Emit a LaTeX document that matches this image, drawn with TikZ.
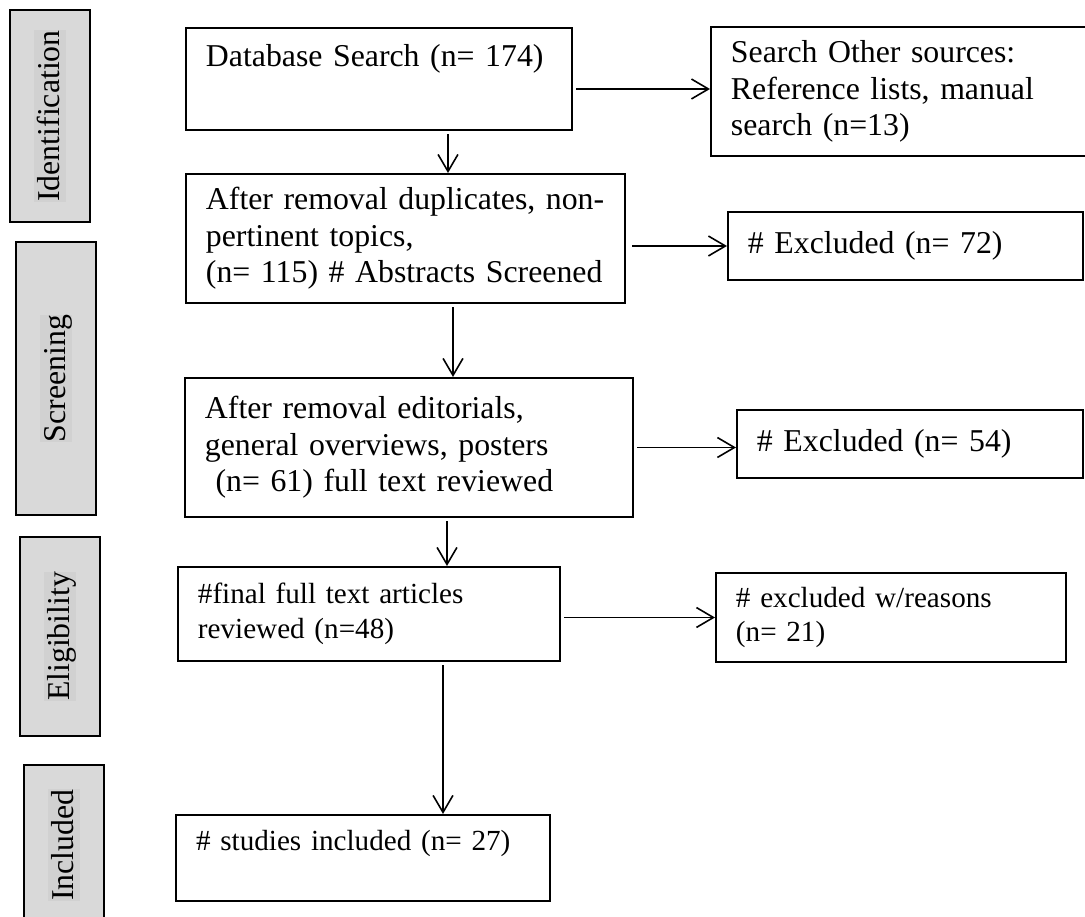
\documentclass[tikz,border=0pt]{standalone}
\usepackage{fontspec}
\setmainfont{Liberation Serif}
\usepackage{xcolor}
\usepackage{tikz}
\usetikzlibrary{positioning, arrows.meta}

\definecolor{barfill}{RGB}{217,217,217}
\definecolor{barmark}{RGB}{209,209,209}

\newcommand{\barlabel}[1]{{\fboxsep=0pt\colorbox{barmark}{\rule[-0.2em]{0pt}{1.0em}#1}}}

\begin{document}
\begin{tikzpicture}[x=3.774pt, y=-3.774pt,
    box/.style={draw, line width=0.75pt, align=left, inner xsep=7.55pt, inner ysep=2pt,
                font=\fontsize{12}{13.8}\selectfont},
    smallbox/.style={box, font=\fontsize{11}{13.2}\selectfont},
    stage/.style={draw, line width=0.75pt, fill=barfill, rotate=90, minimum height=30.2pt,
                  inner sep=0pt, font=\fontsize{12}{13.8}\selectfont},
    flow/.style={line width=0.6pt, -{Straight Barb[length=6.4pt, width=7.5pt]}, shorten <=1.2pt}]

  \useasboundingbox (0,0) rectangle (108.5,91.7);

  % Stages
  \foreach \nm/\cx/\cy/\len/\txt in {ident/5.0/11.6/80.0pt/Identification,
      screening/5.6/37.85/103pt/Screening, eligib/6.0/63.65/75.1pt/Eligibility,
      incl/6.4/84.5/60.4pt/Included}
    \node[stage, minimum width=\len] (\nm) at (\cx,\cy) {\barlabel{\txt}};

  % Main column
  \node[box, text width=130.6pt, minimum height=38.5pt] (search) at (37.9,7.9)
    {Database Search (n= 174)\\ \strut};
  \node[box, text width=150.6pt, minimum height=48.7pt] (screen) at (40.55,23.85)
    {After removal duplicates, non-\\ pertinent topics,\\ (n= 115) \# Abstracts Screened};
  \node[box, text width=154pt, minimum height=52.5pt] (full) at (40.9,44.75)
    {After removal editorials,\\ general overviews, posters\\ ~(n= 61) full text reviewed};
  \node[smallbox, text width=129.1pt, minimum height=35.5pt] (final) at (36.9,61.4)
    {\#final full text articles\\ reviewed (n=48)};
  \node[smallbox, text width=126pt, minimum height=32.5pt] (included) at (36.3,85.8)
    {\# studies included (n= 27)\\[-3.5pt] \strut};

  % Side column
  \node[box, text width=128.7pt, minimum height=48.7pt] (other) at (90.15,9.15)
    {Search Other sources:\\ Reference lists, manual\\ search (n=13)};
  \node[box, text width=118.9pt, minimum height=25.7pt] (excl1) at (90.55,24.6)
    {\# Excluded (n= 72)};
  \node[box, text width=115.5pt, minimum height=25.7pt] (excl2) at (91.0,44.4)
    {\# Excluded (n= 54)};
  \node[smallbox, text width=117pt, minimum height=33.6pt] (excl3) at (89.1,61.75)
    {\# excluded w/reasons\\ (n= 21)};

  % Flow down
  \draw[flow] (search.south -| 44.8,0) -- (screen.north -| 44.8,0);
  \draw[flow] (screen.south -| 45.3,0) -- (full.north -| 45.3,0);
  \draw[flow] (full.south -| 44.7,0) -- (final.north -| 44.7,0);
  \draw[flow] (final.south -| 44.3,0) -- (included.north -| 44.3,0);

  % Flow across
  \draw[flow] (search.east |- 0,8.9) -- (other.west |- 0,8.9);
  \draw[flow, shorten <=2.4pt] (screen.east |- excl1.west) -- (excl1.west);
  \draw[flow] (full.east) -- (full.east -| excl2.west);
  \draw[flow] (final.east |- excl3.west) -- (excl3.west);
\end{tikzpicture}
\end{document}
